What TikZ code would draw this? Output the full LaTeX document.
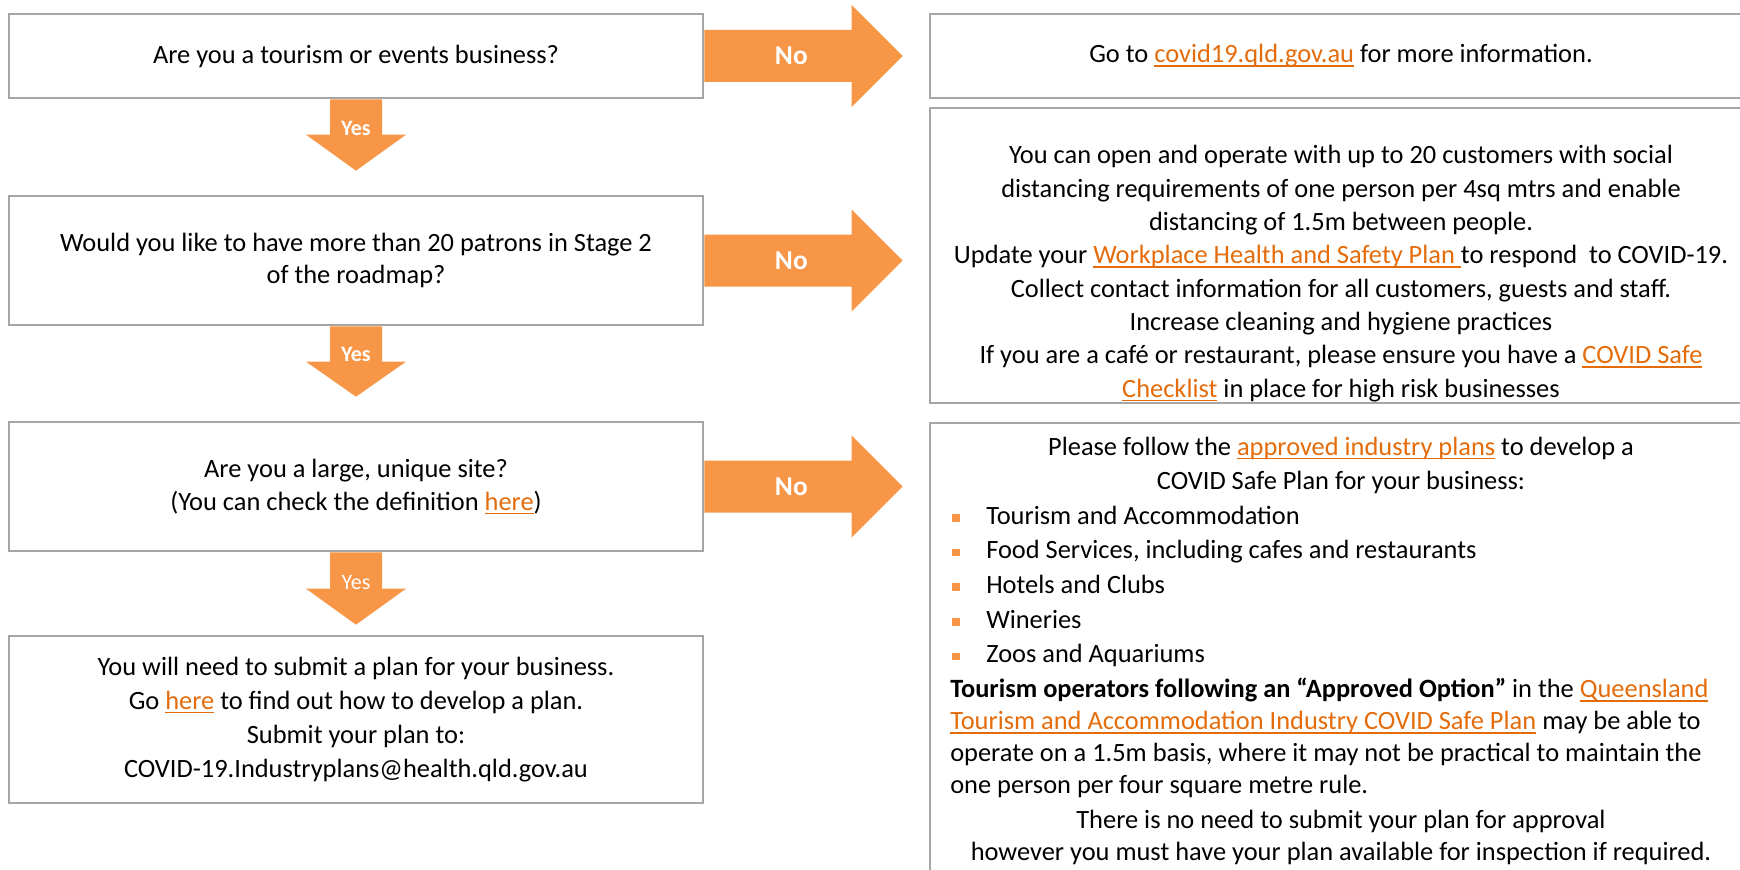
\documentclass[tikz,border=0pt]{standalone}
\usepackage{fontspec}
\setmainfont{Carlito}
\usetikzlibrary{calc}
\definecolor{arrowc}{HTML}{F79646}
\definecolor{linkc}{HTML}{E46C0A}
\definecolor{edgec}{HTML}{A6A6A6}
\newsavebox{\lnkbox}
\newcommand{\lnk}[1]{\sbox{\lnkbox}{\textcolor{linkc}{#1}}\textcolor{linkc}{\rlap{\rule[-3pt]{\wd\lnkbox}{1.1pt}}}\usebox{\lnkbox}}
\newcommand{\sqbul}{\makebox[25.5pt][l]{\textcolor{arrowc}{\rule[1.8pt]{5.8pt}{5.8pt}}}}

\begin{document}
\begin{tikzpicture}[x=0.75pt,y=0.75pt,yscale=-1,
  qbox/.style={draw=edgec,line width=2pt,fill=white,inner sep=0pt,align=center,font=\fontsize{19.8}{24.5}\selectfont},
  txt/.style={inner sep=0pt,font=\fontsize{19.8}{25}\selectfont},
  blockarrow/.style={fill=arrowc},
  yeslbl/.style={inner sep=0pt,text=white,font=\fontsize{16.5}{18}\selectfont\bfseries},
  nolbl/.style={inner sep=0pt,text=white,font=\fontsize{20.5}{22}\selectfont\bfseries}]
\useasboundingbox (0,0) rectangle (1740,870);
\clip (0,0) rectangle (1740,870);

%Shape: Rectangle [questions, left column]
\node[qbox,minimum width=520.5pt,minimum height=63pt] (q1) at (356,56) {Are you a tourism or events business?};
\node[qbox,minimum width=520.5pt,minimum height=96.75pt,font=\fontsize{19.8}{23.5}\selectfont] (q2) at (356,260.5) {Would you like to have more than 20 patrons in Stage 2\\of the roadmap?};
\node[qbox,minimum width=520.5pt,minimum height=96.75pt] (q3) at (356,486.5) {Are you a large, unique site?\\(You can check the definition \lnk{here})};
\node[qbox,minimum width=520.5pt,minimum height=125.25pt,font=\fontsize{19.8}{25.5}\selectfont] (q4) at (356,719.5) {You will need to submit a plan for your business.\\Go \lnk{here} to find out how to develop a plan.\\Submit your plan to:\\COVID-19.Industryplans@health.qld.gov.au};

%Shape: Rectangle [answers, right column]
\node[qbox,minimum width=616.5pt,minimum height=63pt] (r1) at (1341,56) {Go to \lnk{covid19.qld.gov.au} for more information.};
\node[qbox,minimum width=616.5pt,minimum height=221.25pt] (r2) at (1341,255.5) {};
\node[qbox,minimum width=616.5pt,minimum height=357.75pt] (r3) at (1341,661.5) {};

%Block Arrows: Yes
\coordinate (t1) at ($(q2.north)+(0,-24)$);
\fill[blockarrow] ($(q1.south)+(-26,0)$) -- ($(q1.south)+(26,0)$) -- ($(t1)+(26,-36)$) -- ($(t1)+(50,-36)$) -- (t1) -- ($(t1)+(-50,-36)$) -- ($(t1)+(-26,-36)$) -- cycle;
\coordinate (t2) at ($(q3.north)+(0,-24)$);
\fill[blockarrow] ($(q2.south)+(-26,0)$) -- ($(q2.south)+(26,0)$) -- ($(t2)+(26,-35)$) -- ($(t2)+(50,-35)$) -- (t2) -- ($(t2)+(-50,-35)$) -- ($(t2)+(-26,-35)$) -- cycle;
\coordinate (t3) at ($(q4.north)+(0,-10)$);
\fill[blockarrow] ($(q3.south)+(-26,0)$) -- ($(q3.south)+(26,0)$) -- ($(t3)+(26,-36)$) -- ($(t3)+(50,-36)$) -- (t3) -- ($(t3)+(-50,-36)$) -- ($(t3)+(-26,-36)$) -- cycle;

%Block Arrows: No
\coordinate (n1) at ($(q1.east -| r1.west)+(-26,0)$);
\fill[blockarrow] ($(q1.east)+(0,-26)$) -- ($(n1)+(-51,-26)$) -- ($(n1)+(-51,-51)$) -- (n1) -- ($(n1)+(-51,51)$) -- ($(n1)+(-51,26)$) -- ($(q1.east)+(0,26)$) -- cycle;
\coordinate (n2) at ($(q2.east -| r2.west)+(-26,0)$);
\fill[blockarrow] ($(q2.east)+(0,-26)$) -- ($(n2)+(-51,-26)$) -- ($(n2)+(-51,-51)$) -- (n2) -- ($(n2)+(-51,51)$) -- ($(n2)+(-51,26)$) -- ($(q2.east)+(0,26)$) -- cycle;
\coordinate (n3) at ($(q3.east -| r3.west)+(-26,0)$);
\fill[blockarrow] ($(q3.east)+(0,-26)$) -- ($(n3)+(-51,-26)$) -- ($(n3)+(-51,-51)$) -- (n3) -- ($(n3)+(-51,51)$) -- ($(n3)+(-51,26)$) -- ($(q3.east)+(0,26)$) -- cycle;

% Text Node
\node[yeslbl] (yes1) at ($(q1.south)+(0,29)$) {Yes};
% Text Node
\node[yeslbl] (yes2) at ($(q2.south)+(0,28)$) {Yes};
% Text Node
\node[yeslbl,font=\fontsize{16.5}{18}\selectfont] (yes3) at ($(q3.south)+(0,30)$) {Yes};
% Text Node
\node[nolbl] (no1) at ($(q1.east)+(87,0)$) {No};
% Text Node
\node[nolbl] (no2) at ($(q2.east)+(87,0)$) {No};
% Text Node
\node[nolbl] (no3) at ($(q3.east)+(87,0)$) {No};

% Text Node
\node[txt,align=center] (rules) at (1341,273.5) {You can open and operate with up to 20 customers with social\\distancing requirements of one person per 4sq mtrs and enable\\distancing of 1.5m between people.\\Update your \lnk{Workplace Health and Safety Plan\ }to respond\ \ to COVID-19.\\Collect contact information for all customers, guests and staff.\\Increase cleaning and hygiene practices\\If you are a café or restaurant, please ensure you have a \lnk{COVID Safe}\\\lnk{Checklist} in place for high risk businesses};
% Text Node
\node[txt,align=center,font=\fontsize{19.8}{25.5}\selectfont] (follow) at (1341,465) {Please follow the \lnk{approved industry plans} to develop a\\COVID Safe Plan for your business:};
% Text Node
\node[txt,align=left,anchor=west,font=\fontsize{19.8}{26}\selectfont] (plans) at (952,586.5) {\sqbul Tourism and Accommodation\\\sqbul Food Services, including cafes and restaurants\\\sqbul Hotels and Clubs\\\sqbul Wineries\\\sqbul Zoos and Aquariums};
% Text Node
\node[txt,align=left,anchor=west,font=\fontsize{19.8}{24}\selectfont] (option) at (950,738) {\textbf{Tourism operators following an “Approved Option”} in the \lnk{Queensland}\\\lnk{Tourism and Accommodation Industry COVID Safe Plan} may be able to\\operate on a 1.5m basis, where it may not be practical to maintain the\\one person per four square metre rule.};
% Text Node
\node[txt,align=center,font=\fontsize{19.8}{24}\selectfont] (noneed) at (1341,837) {There is no need to submit your plan for approval\\however you must have your plan available for inspection if required.};

\end{tikzpicture}
\end{document}
